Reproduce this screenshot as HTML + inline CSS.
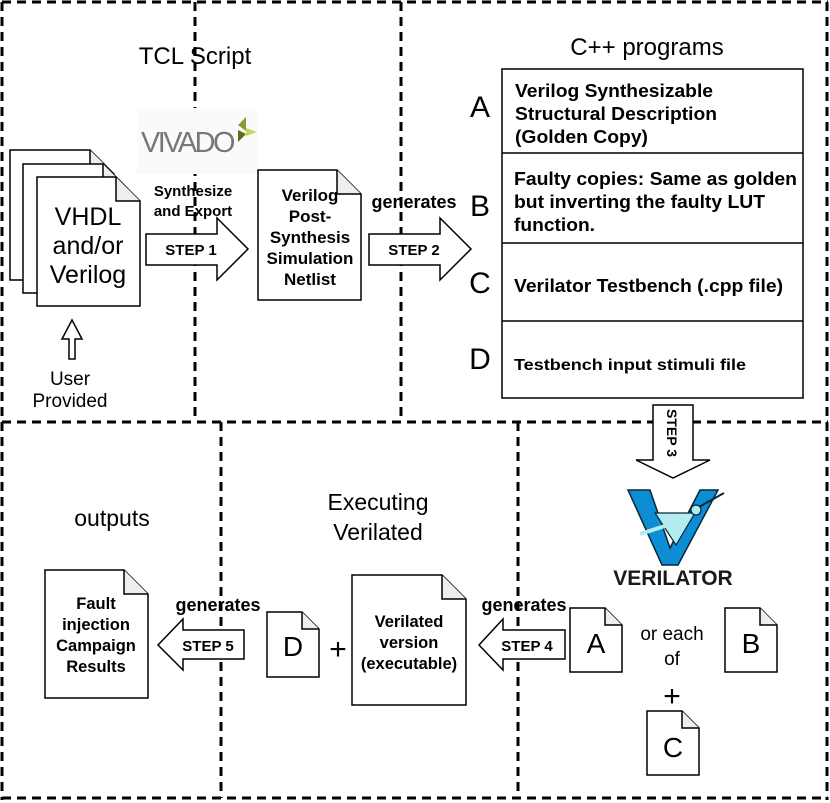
<!DOCTYPE html>
<html><head><meta charset="utf-8"><style>
html,body{margin:0;padding:0;background:#fff}
svg{display:block}
text{font-family:"Liberation Sans",Arial,sans-serif}
.b{font-weight:bold}
</style></head><body>
<svg width="830" height="803" viewBox="0 0 830 803" xmlns="http://www.w3.org/2000/svg">
<g stroke="#000" stroke-width="3" stroke-dasharray="9,6" fill="none">
<line x1="2" y1="2" x2="828" y2="2"/>
<line x1="2" y1="2" x2="2" y2="800"/>
<line x1="827" y1="2" x2="827" y2="800"/>
<line x1="2" y1="798" x2="828" y2="798"/>
<line x1="195" y1="2" x2="195" y2="422"/>
<line x1="401" y1="2" x2="401" y2="422"/>
<line x1="2" y1="422" x2="828" y2="422"/>
<line x1="221" y1="422" x2="221" y2="798"/>
<line x1="518" y1="422" x2="518" y2="798"/>
</g>

<text x="195" y="64" font-size="24" text-anchor="middle">TCL Script</text>
<text x="647" y="55" font-size="24" text-anchor="middle">C++ programs</text>
<text x="112" y="526" font-size="23" text-anchor="middle">outputs</text>
<text x="378" y="510" font-size="23" text-anchor="middle">Executing</text>
<text x="378" y="540" font-size="23" text-anchor="middle">Verilated</text>

<rect x="137" y="108" width="120" height="66" fill="#fafafa"/>
<text x="141" y="152" font-size="29" fill="#777" letter-spacing="-2.5" textLength="92" lengthAdjust="spacingAndGlyphs">VIVADO</text>
<polygon points="238,125 246,117 246,131" fill="#8b9a2a"/>
<polygon points="238,130 246,134 238,142" fill="#5c6b1f"/>
<polygon points="246,128 257,132 246,136" fill="#c6d65a"/>

<g stroke="#000" stroke-width="1.5">
<path d="M10,150 H90 L114,174 V280 H10 Z" fill="#fff"/>
<path d="M90,150 V174 H114" fill="#eee"/>
<path d="M23,164 H103 L127,188 V293 H23 Z" fill="#fff"/>
<path d="M103,164 V188 H127" fill="#eee"/>
<path d="M37,177 H116 L140,201 V306 H37 Z" fill="#fff"/>
<path d="M116,177 V201 H140" fill="#eee"/>
<path d="M258,170 H337 L361,194 V300 H258 Z" fill="#fff"/>
<path d="M337,170 V194 H361" fill="#eee"/>
<polygon points="146,234 217,234 217,218 248,249 217,280 217,265 146,265" fill="#fff"/>
<polygon points="369,234 440,234 440,218 471,249 440,280 440,265 369,265" fill="#fff"/>
<polygon points="72,320 82,339 75,339 75,359 69,359 69,339 62,339" fill="#fff"/>
<rect x="502" y="69" width="301" height="329" fill="#fff"/>
<line x1="502" y1="153" x2="803" y2="153"/>
<line x1="502" y1="243" x2="803" y2="243"/>
<line x1="502" y1="321" x2="803" y2="321"/>
<polygon points="653,405 693,405 693,460 710,460 673,478 636,460 653,460" fill="#fff"/>
<path d="M570,608 H605 L622,625 V672 H570 Z" fill="#fff"/><path d="M605,608 V625 H622" fill="#eee"/>
<path d="M725,608 H760 L777,625 V672 H725 Z" fill="#fff"/><path d="M760,608 V625 H777" fill="#eee"/>
<path d="M647,711 H682 L699,728 V775 H647 Z" fill="#fff"/><path d="M682,711 V728 H699" fill="#eee"/>
<polygon points="565,630 503,630 503,619 479,645 503,670 503,659 565,659" fill="#fff"/>
<path d="M352,575 H442 L466,599 V705 H352 Z" fill="#fff"/><path d="M442,575 V599 H466" fill="#eee"/>
<path d="M267,612 H302 L319,629 V677 H267 Z" fill="#fff"/><path d="M302,612 V629 H319" fill="#eee"/>
<polygon points="244,630 183,630 183,619 158,645 183,670 183,659 244,659" fill="#fff"/>
<path d="M45,570 H124 L148,594 V698 H45 Z" fill="#fff"/><path d="M124,570 V594 H148" fill="#eee"/>
</g>

<text x="88" y="225" font-size="25" text-anchor="middle">VHDL</text>
<text x="88" y="254" font-size="25" text-anchor="middle">and/or</text>
<text x="88" y="283" font-size="25" text-anchor="middle">Verilog</text>
<text x="70" y="385" font-size="19" text-anchor="middle">User</text>
<text x="70" y="407" font-size="19" text-anchor="middle">Provided</text>
<text x="193" y="196" font-size="15" class="b" text-anchor="middle">Synthesize</text>
<text x="193" y="216" font-size="15" class="b" text-anchor="middle">and Export</text>
<text x="191" y="255" font-size="15" class="b" text-anchor="middle">STEP 1</text>
<g font-size="17" class="b" text-anchor="middle">
<text x="310" y="201">Verilog</text><text x="310" y="222">Post-</text><text x="310" y="243">Synthesis</text><text x="310" y="264">Simulation</text><text x="310" y="285">Netlist</text>
</g>
<text x="414" y="208" font-size="18" class="b" text-anchor="middle">generates</text>
<text x="414" y="255" font-size="15" class="b" text-anchor="middle">STEP 2</text>

<g font-size="30" text-anchor="middle">
<text x="480" y="117">A</text><text x="480" y="216">B</text><text x="480" y="293">C</text><text x="480" y="369">D</text>
</g>
<g font-size="18" class="b">
<text x="515" y="97" textLength="198" lengthAdjust="spacingAndGlyphs">Verilog Synthesizable</text>
<text x="515" y="120" textLength="202" lengthAdjust="spacingAndGlyphs">Structural Description</text>
<text x="515" y="143" textLength="133" lengthAdjust="spacingAndGlyphs">(Golden Copy)</text>
<text x="514" y="185" textLength="283" lengthAdjust="spacingAndGlyphs">Faulty copies: Same as golden</text>
<text x="514" y="208" textLength="251" lengthAdjust="spacingAndGlyphs">but inverting the faulty LUT</text>
<text x="514" y="231" textLength="81" lengthAdjust="spacingAndGlyphs">function.</text>
<text x="514" y="292" textLength="269" lengthAdjust="spacingAndGlyphs">Verilator Testbench (.cpp file)</text>
<text x="514" y="370" font-size="16" textLength="232" lengthAdjust="spacingAndGlyphs">Testbench input stimuli file</text>
</g>
<text x="0" y="0" font-size="14" class="b" transform="translate(667,409) rotate(90)">STEP 3</text>

<polygon points="628,490 650,490 670,548 700,490 718,490 678,565 662,565" fill="#0d8ed4" stroke="#06263a" stroke-width="1.5"/>
<polygon points="655,513 695,513 676,545" fill="#b2ecef" stroke="#06263a" stroke-width="1.2"/>
<line x1="690" y1="512" x2="724" y2="493" stroke="#06263a" stroke-width="2"/>
<circle cx="696" cy="510" r="5" fill="#b2ecef" stroke="#06263a" stroke-width="1.2"/>
<line x1="640" y1="534" x2="665" y2="526" stroke="#b2ecef" stroke-width="4"/>
<text x="673" y="585" font-size="21" class="b" text-anchor="middle" fill="#1a1a1a">VERILATOR</text>

<g font-size="28" text-anchor="middle">
<text x="596" y="653">A</text><text x="751" y="653">B</text><text x="673" y="757">C</text><text x="293" y="656">D</text>
</g>
<text x="672" y="640" font-size="19" text-anchor="middle">or each</text>
<text x="672" y="665" font-size="19" text-anchor="middle">of</text>
<text x="672" y="706" font-size="30" text-anchor="middle">+</text>
<text x="338" y="659" font-size="30" text-anchor="middle">+</text>
<g font-size="16.5" class="b" text-anchor="middle">
<text x="409" y="627">Verilated</text><text x="409" y="648">version</text><text x="409" y="669">(executable)</text>
<text x="96" y="609">Fault</text><text x="96" y="630">injection</text><text x="96" y="651">Campaign</text><text x="96" y="672">Results</text>
</g>
<text x="524" y="611" font-size="18" class="b" text-anchor="middle">generates</text>
<text x="527" y="651" font-size="15" class="b" text-anchor="middle">STEP 4</text>
<text x="218" y="611" font-size="18" class="b" text-anchor="middle">generates</text>
<text x="208" y="651" font-size="15" class="b" text-anchor="middle">STEP 5</text>
</svg>
</body></html>
